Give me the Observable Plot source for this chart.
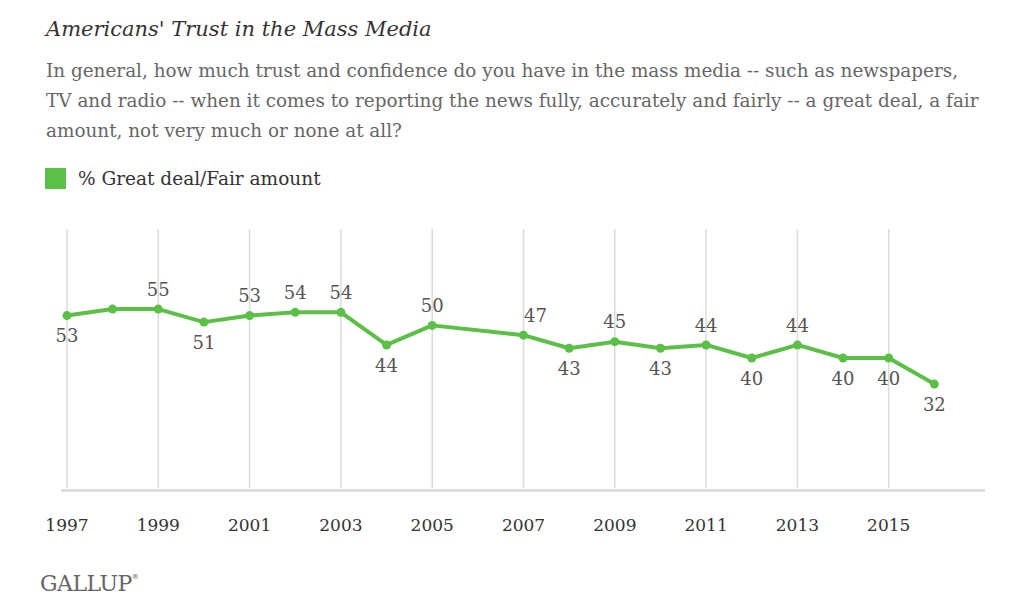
<!DOCTYPE html>
<html>
<head>
<meta charset="utf-8">
<script src="https://cdn.jsdelivr.net/npm/d3@7"></script>
<script src="https://cdn.jsdelivr.net/npm/@observablehq/plot@0.6"></script>
<style>
  html, body { margin: 0; padding: 0; background: #fff; }
  body { width: 1023px; height: 612px; position: relative; overflow: hidden; font-family: "DejaVu Serif", serif; }
  .title { position: absolute; left: 46px; top: 17px; font-size: 21px; line-height: 24px; font-style: italic; color: #333; white-space: nowrap; }
  .sub { position: absolute; left: 46px; top: 55.5px; font-size: 18.4px; line-height: 30px; color: #666; white-space: nowrap; }
  .legend { position: absolute; left: 45px; top: 163.5px; font-size: 18.5px; line-height: 30px; color: #333; white-space: nowrap; }
  .legend .sw { position: absolute; left: 0; top: 4.5px; width: 21px; height: 21px; }
  .legend span.t { position: absolute; left: 33px; top: 0; }
  #chart { position: absolute; left: 0; top: 200px; }
  .brand { position: absolute; left: 40px; top: 562px; font-size: 22px; line-height: 30px; color: #666; letter-spacing: -0.5px; white-space: nowrap; }
  .brand sup { font-size: 7px; vertical-align: 12px; }
</style>
</head>
<body>
<div class="title" id="title"></div>
<div class="sub" id="sub"></div>
<div class="legend"><div class="sw" id="sw"></div><span class="t" id="legtext"></span></div>
<div id="chart"></div>
<div class="brand">GALLUP<sup>®</sup></div>
<script>
const titleText = "Americans' Trust in the Mass Media";
const subtitleLines = [
  "In general, how much trust and confidence do you have in the mass media -- such as newspapers,",
  "TV and radio -- when it comes to reporting the news fully, accurately and fairly -- a great deal, a fair",
  "amount, not very much or none at all?"
];
const seriesName = "% Great deal/Fair amount";
const years = [1997, 1998, 1999, 2000, 2001, 2002, 2003, 2004, 2005, 2007, 2008, 2009, 2010, 2011, 2012, 2013, 2014, 2015, 2016];
const trust = [53, 55, 55, 51, 53, 54, 54, 44, 50, 47, 43, 45, 43, 44, 40, 44, 40, 40, 32];
const labelAboveYears = [1999, 2001, 2002, 2003, 2005, 2009, 2011, 2013];
const labelAboveRightYears = [2007];
const labelBelowYears = [1997, 2000, 2004, 2008, 2010, 2012, 2014, 2015, 2016];
const tickYears = [1997, 1999, 2001, 2003, 2005, 2007, 2009, 2011, 2013, 2015];

const green = "#5cbf47";
document.getElementById("title").textContent = titleText;
document.getElementById("sub").innerHTML = subtitleLines.map(l => l.replace(/&/g,"&amp;").replace(/</g,"&lt;")).join("<br>");
document.getElementById("legtext").textContent = seriesName;
document.getElementById("sw").style.background = green;

const data = years.map((year, i) => ({year, value: trust[i]}));
const above = data.filter(d => labelAboveYears.includes(d.year));
const aboveRight = data.filter(d => labelAboveRightYears.includes(d.year));
const below = data.filter(d => labelBelowYears.includes(d.year));
const labelStyle = {x: "year", y: "value", text: d => String(d.value), fill: "#555", fontSize: 18};

const chart = Plot.plot({
  width: 1023,
  height: 400,
  marginTop: 27,
  marginBottom: 112,
  marginLeft: 61,
  marginRight: 38,
  x: {domain: [1996.88, 2017.12], axis: null, label: null},
  y: {domain: [0, 80], axis: null, label: null},
  style: {fontFamily: "DejaVu Serif", background: "white", overflow: "visible"},
  marks: [
    Plot.ruleX(tickYears, {x: d => d, y1: 0, y2: 80, stroke: "#dcdcd8", strokeWidth: 1.5, insetBottom: -2}),
    Plot.ruleY([0], {stroke: "#d8d8d4", strokeWidth: 2.5, dy: 2}),
    Plot.line(data, {x: "year", y: "value", stroke: green, strokeWidth: 4, strokeLinejoin: "round"}),
    Plot.dot(data, {x: "year", y: "value", r: 4.5, fill: green}),
    Plot.text(above, {...labelStyle, dy: -19}),
    Plot.text(aboveRight, {...labelStyle, dy: -19, dx: 12}),
    Plot.text(below, {...labelStyle, dy: 21}),
    Plot.axisX({ticks: tickYears, tickFormat: d => String(d), tickSize: 0, tickPadding: 30, fontSize: 17, fill: "#333", label: null})
  ]
});
document.getElementById("chart").appendChild(chart);
</script>
</body>
</html>
